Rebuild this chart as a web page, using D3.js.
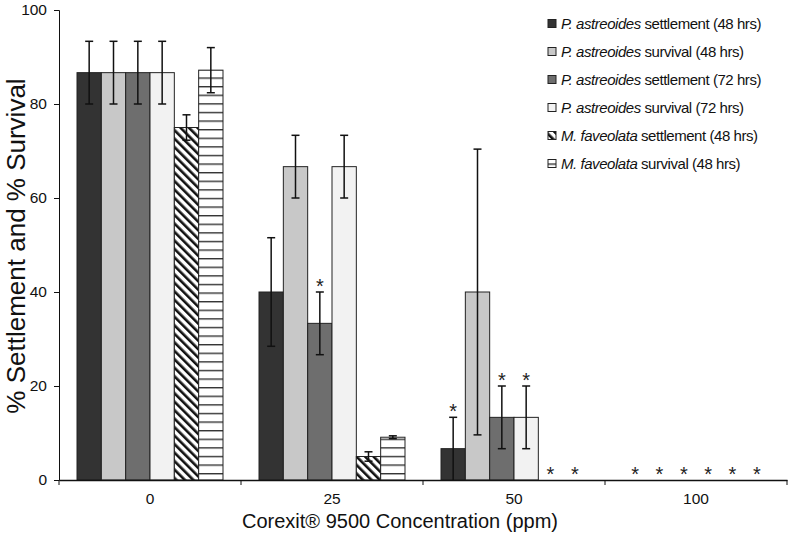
<!DOCTYPE html>
<html>
<head>
<meta charset="utf-8">
<script src="https://cdn.jsdelivr.net/npm/d3@7/dist/d3.min.js"></script>
<style>
  body { margin: 0; background: #fff; }
  svg { display: block; font-family: "Liberation Sans", Arial, sans-serif; }
</style>
</head>
<body>
<svg id="chart" width="792" height="542"></svg>
<script>
// ---- data ----
const categories = ["0", "25", "50", "100"];
const seriesSpecies = ["P. astreoides", "P. astreoides", "P. astreoides", "P. astreoides", "M. faveolata", "M. faveolata"];
const seriesRest = [" settlement (48 hrs)", " survival (48 hrs)", " settlement (72 hrs)", " survival (72 hrs)", " settlement (48 hrs)", " survival (48 hrs)"];
// values per series, one per category
const paSettle48 = [86.67, 40.0, 6.67, 0];
const paSurv48   = [86.67, 66.67, 40.0, 0];
const paSettle72 = [86.67, 33.33, 13.33, 0];
const paSurv72   = [86.67, 66.67, 13.33, 0];
const mfSettle48 = [75.0, 5.0, 0, 0];
const mfSurv48   = [87.2, 9.1, 0, 0];
// standard errors
const paSettle48Err = [6.67, 11.55, 6.67, 0];
const paSurv48Err   = [6.67, 6.67, 30.4, 0];
const paSettle72Err = [6.67, 6.67, 6.67, 0];
const paSurv72Err   = [6.67, 6.67, 6.67, 0];
const mfSettle48Err = [2.7, 1.0, 0, 0];
const mfSurv48Err   = [4.8, 0.3, 0, 0];
// significance markers (*)
const paSettle48Sig = [false, false, true, true];
const paSurv48Sig   = [false, false, false, true];
const paSettle72Sig = [false, true, true, true];
const paSurv72Sig   = [false, false, true, true];
const mfSettle48Sig = [false, false, true, true];
const mfSurv48Sig   = [false, false, true, true];
const yTicks = [0, 20, 40, 60, 80, 100];

const seriesValues = [paSettle48, paSurv48, paSettle72, paSurv72, mfSettle48, mfSurv48];
const seriesErrors = [paSettle48Err, paSurv48Err, paSettle72Err, paSurv72Err, mfSettle48Err, mfSurv48Err];
const seriesSig = [paSettle48Sig, paSurv48Sig, paSettle72Sig, paSurv72Sig, mfSettle48Sig, mfSurv48Sig];
const fills = ["#333333", "#c8c8c8", "#6e6e6e", "#f2f2f2", "url(#diag)", "url(#horiz)"];

// ---- layout ----
const svg = d3.select("#chart");
const mLeft = 59, mRight = 787, mTop = 10, mBottom = 480;

const defs = svg.append("defs");
const diag = defs.append("pattern").attr("id", "diag").attr("patternUnits", "userSpaceOnUse")
  .attr("width", 6).attr("height", 6).attr("patternTransform", "rotate(-45)");
diag.append("rect").attr("width", 6).attr("height", 6).attr("fill", "#fff");
diag.append("rect").attr("x", 0).attr("width", 2.6).attr("height", 6).attr("fill", "#111");
const horiz = defs.append("pattern").attr("id", "horiz").attr("patternUnits", "userSpaceOnUse")
  .attr("width", 8).attr("height", 8.6).attr("y", 0);
horiz.append("rect").attr("width", 8).attr("height", 8.6).attr("fill", "#fff");
horiz.append("rect").attr("y", 0).attr("width", 8).attr("height", 1.4).attr("fill", "#333");

const x = d3.scaleBand().domain(categories).range([mLeft, mRight]).padding(0);
const xs = d3.scaleBand().domain(d3.range(6)).range([0, x.bandwidth()]).paddingInner(0).paddingOuter(0.74);
const y = d3.scaleLinear().domain([0, 100]).range([mBottom, mTop]);

// bars
const rows = [];
categories.forEach((c, ci) => {
  seriesValues.forEach((vals, si) => {
    rows.push({ c, si, v: vals[ci], e: seriesErrors[si][ci], sig: seriesSig[si][ci] });
  });
});

svg.append("g").selectAll("rect").data(rows.filter(d => d.v > 0)).join("rect")
  .attr("x", d => x(d.c) + xs(d.si))
  .attr("y", d => y(d.v))
  .attr("width", xs.bandwidth())
  .attr("height", d => y(0) - y(d.v))
  .attr("fill", d => fills[d.si])
  .attr("stroke", "#222")
  .attr("stroke-width", 1);

// error bars
const eb = svg.append("g").attr("stroke", "#111").attr("stroke-width", 1.5);
rows.filter(d => d.e > 0).forEach(d => {
  const cx = x(d.c) + xs(d.si) + xs.bandwidth() / 2;
  const hi = y(d.v + d.e), lo = y(Math.max(0, d.v - d.e));
  eb.append("line").attr("x1", cx).attr("x2", cx).attr("y1", hi).attr("y2", lo);
  eb.append("line").attr("x1", cx - 4).attr("x2", cx + 4).attr("y1", hi).attr("y2", hi);
  if (d.v - d.e > 0) eb.append("line").attr("x1", cx - 4).attr("x2", cx + 4).attr("y1", lo).attr("y2", lo);
});

// asterisks
svg.append("g").selectAll("text").data(rows.filter(d => d.sig)).join("text")
  .attr("x", d => x(d.c) + xs(d.si) + xs.bandwidth() / 2)
  .attr("y", d => y(d.v + d.e) + 1)
  .attr("text-anchor", "middle")
  .attr("font-size", 20)
  .attr("fill", "#222")
  .text("*");

// y axis
const yAxis = svg.append("g").attr("transform", `translate(${mLeft},0)`)
  .call(d3.axisLeft(y).tickValues(yTicks).tickSize(5).tickPadding(7));
yAxis.selectAll("text").attr("font-size", 15.5).attr("fill", "#111").attr("font-family", "Liberation Sans, Arial, sans-serif");
yAxis.selectAll("line, path").attr("stroke", "#111");

// x axis
const xAxis = svg.append("g").attr("transform", `translate(0,${mBottom})`)
  .call(d3.axisBottom(x).tickSize(0).tickPadding(13));
xAxis.select(".domain").attr("stroke", "#111").attr("stroke-width", 1.3);
xAxis.selectAll("text").attr("font-size", 15.5).attr("fill", "#111").attr("font-family", "Liberation Sans, Arial, sans-serif");
const bounds = categories.map(c => x(c)).concat([x(categories[categories.length - 1]) + x.bandwidth()]);
xAxis.selectAll("line.bound").data(bounds).join("line").attr("class", "bound")
  .attr("x1", d => d).attr("x2", d => d).attr("y1", 0).attr("y2", 5).attr("stroke", "#111");

// titles
svg.append("text").attr("x", 400).attr("y", 528).attr("text-anchor", "middle")
  .attr("font-size", 20).attr("fill", "#111").text("Corexit\u00AE 9500 Concentration (ppm)");
svg.append("text").attr("transform", `translate(25,246) rotate(-90)`)
  .attr("text-anchor", "middle").attr("font-size", 26).attr("fill", "#111")
  .text("% Settlement and % Survival");

// legend
const lg = svg.append("g").attr("transform", "translate(548,0)");
seriesRest.forEach((r, i) => {
  const cy = 24 + i * 28;
  lg.append("rect").attr("x", 0).attr("y", cy - 4.5).attr("width", 8).attr("height", 8)
    .attr("fill", fills[i]).attr("stroke", "#222").attr("stroke-width", 1);
  const t = lg.append("text").attr("x", 13).attr("y", cy + 5).attr("font-size", 15)
    .attr("letter-spacing", -0.45).attr("fill", "#111");
  t.append("tspan").attr("font-style", "italic").text(seriesSpecies[i]);
  t.append("tspan").text(seriesRest[i]);
});
</script>
</body>
</html>
